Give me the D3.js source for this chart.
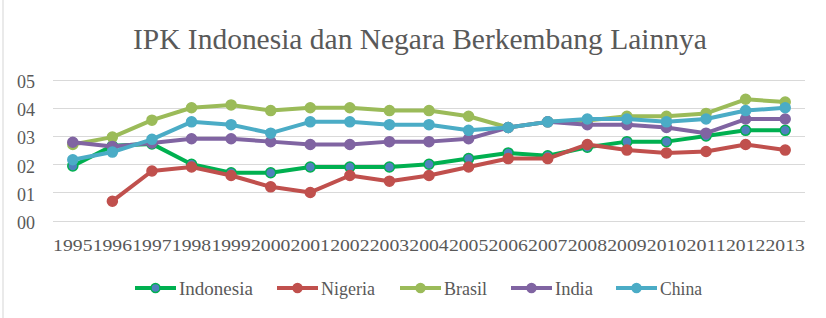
<!DOCTYPE html>
<html>
<head>
<meta charset="utf-8">
<script src="https://cdn.jsdelivr.net/npm/d3@7"></script>
<style>
  html, body { margin: 0; padding: 0; background: #fff; }
  svg { display: block; }
  text { font-family: "Liberation Serif", "DejaVu Serif", serif; fill: #595959; }
</style>
</head>
<body>
<svg id="chart" width="826" height="318"></svg>
<script>
// Data
const years = ['1995','1996','1997','1998','1999','2000','2001','2002','2003','2004',
               '2005','2006','2007','2008','2009','2010','2011','2012','2013'];
const indonesia = [1.94, 2.65, 2.72, 2.0, 1.7, 1.7, 1.9, 1.9, 1.9, 2.0, 2.2, 2.4, 2.3, 2.6, 2.8, 2.8, 3.0, 3.2, 3.2];
const nigeria   = [null, 0.69, 1.76, 1.9, 1.6, 1.2, 1.0, 1.6, 1.4, 1.6, 1.9, 2.2, 2.2, 2.7, 2.5, 2.4, 2.45, 2.7, 2.5];
const brasil    = [2.7, 2.96, 3.56, 4.0, 4.1, 3.9, 4.0, 4.0, 3.9, 3.9, 3.7, 3.3, 3.5, 3.55, 3.7, 3.7, 3.8, 4.3, 4.2];
const india     = [2.78, 2.63, 2.75, 2.9, 2.9, 2.8, 2.7, 2.7, 2.8, 2.8, 2.9, 3.3, 3.5, 3.4, 3.4, 3.3, 3.1, 3.6, 3.6];
const china     = [2.16, 2.43, 2.88, 3.5, 3.4, 3.1, 3.5, 3.5, 3.4, 3.4, 3.2, 3.3, 3.5, 3.6, 3.6, 3.5, 3.6, 3.9, 4.0];
const yTicks = [0, 1, 2, 3, 4, 5];

const series = [
  { name: 'Indonesia', values: indonesia, line: '#00b050', fill: '#4f81bd', legendW: 74 },
  { name: 'Nigeria',   values: nigeria,   line: '#c0504d', fill: '#c0504d', legendW: 54 },
  { name: 'Brasil',    values: brasil,    line: '#9bbb59', fill: '#9bbb59', legendW: 43 },
  { name: 'India',     values: india,     line: '#8064a2', fill: '#8064a2', legendW: 38 },
  { name: 'China',     values: china,     line: '#4bacc6', fill: '#4bacc6', legendW: 42 },
];

// squeeze/stretch a text horizontally to a given width, keeping its anchor point
function fit(el, w) {
  const n = el.getComputedTextLength();
  if (!n) return;
  const s = w / n;
  const x = +el.getAttribute('x') || 0;
  el.setAttribute('transform', `translate(${x * (1 - s)},0) scale(${s},1)`);
}

const svg = d3.select('#chart');

// left border of the chart area
svg.append('line')
  .attr('x1', 3).attr('x2', 3).attr('y1', 0).attr('y2', 318)
  .attr('stroke', '#e3e3e3').attr('stroke-width', 1.5);

const x = d3.scaleBand().domain(years).range([53, 805]);
const y = d3.scaleLinear().domain([0, 5]).range([220.7, 79.5]);

// Title
svg.append('text')
  .attr('x', 133).attr('y', 49)
  .attr('font-size', '29px')
  .text('IPK Indonesia dan Negara Berkembang Lainnya')
  .each(function () { fit(this, 574); });

// Gridlines
svg.append('g')
  .selectAll('line')
  .data(yTicks)
  .join('line')
  .attr('x1', 53).attr('x2', 805)
  .attr('y1', d => Math.round(y(d)) + 0.5).attr('y2', d => Math.round(y(d)) + 0.5)
  .attr('stroke', '#d9d9d9').attr('stroke-width', 1.2);

// Y axis labels
const yAxis = svg.append('g')
  .attr('transform', 'translate(35,0)')
  .call(d3.axisLeft(y).tickValues(yTicks).tickSize(0).tickPadding(0).tickFormat(d => '0' + d));
yAxis.select('.domain').remove();
yAxis.selectAll('text')
  .attr('font-size', '19px')
  .attr('fill', '#595959')
  .attr('dy', '0.42em')
  .each(function () { fit(this, 18); });

// X axis labels, one per category, wide enough to run together
const xAxis = svg.append('g')
  .attr('transform', 'translate(0,239)')
  .call(d3.axisBottom(x).tickSize(0).tickPadding(0));
xAxis.select('.domain').remove();
xAxis.selectAll('text')
  .attr('font-size', '17px')
  .attr('fill', '#595959')
  .attr('dy', '0.68em')
  .each(function () { fit(this, 39.4); });

// Lines and markers
const line = d3.line()
  .defined(d => d.v !== null)
  .x(d => x(d.year) + x.bandwidth() / 2)
  .y(d => y(d.v));

series.forEach(s => {
  const pts = years.map((yr, i) => ({ year: yr, v: s.values[i] }));
  const g = svg.append('g');
  g.append('path')
    .datum(pts)
    .attr('d', line)
    .attr('fill', 'none')
    .attr('stroke', s.line)
    .attr('stroke-width', 4)
    .attr('stroke-linejoin', 'round');
  g.selectAll('circle')
    .data(pts.filter(d => d.v !== null))
    .join('circle')
    .attr('cx', d => x(d.year) + x.bandwidth() / 2)
    .attr('cy', d => y(d.v))
    .attr('r', 5)
    .attr('fill', s.fill)
    .attr('stroke', s.line)
    .attr('stroke-width', 1.5);
});

// Legend
const legendX = [135, 277, 400, 511, 616];
series.forEach((s, i) => {
  const lg = svg.append('g').attr('transform', `translate(${legendX[i]}, 288)`);
  lg.append('line')
    .attr('x1', 0).attr('x2', 41).attr('y1', 0).attr('y2', 0)
    .attr('stroke', s.line).attr('stroke-width', 4);
  lg.append('circle')
    .attr('cx', 20.5).attr('cy', 0).attr('r', 4.5)
    .attr('fill', s.fill).attr('stroke', s.line).attr('stroke-width', 1.5);
  lg.append('text')
    .attr('x', 44).attr('y', 6.5)
    .attr('font-size', '19px')
    .text(s.name)
    .each(function () { fit(this, s.legendW); });
});
</script>
</body>
</html>
